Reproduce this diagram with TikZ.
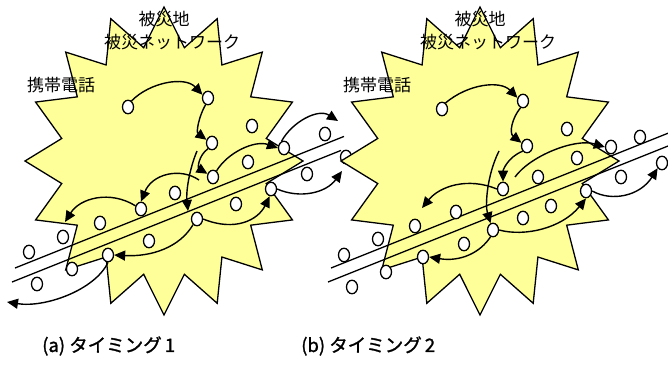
\documentclass[tikz,border=0pt]{standalone}
\usepackage{fontspec}
\newfontfamily\jpfont{Noto Sans CJK JP}
\newfontfamily\jpcap[FakeBold=1.3]{Noto Sans CJK JP}
\usetikzlibrary{arrows.meta,shapes.geometric}
\definecolor{staryellow}{RGB}{255,255,153}
\tikzset{
 pt/.style={ellipse, draw, fill=white, line width=1.3pt, minimum width=11pt, minimum height=13.5pt, inner sep=0pt},
 road/.style={line width=1.3pt},
 starfill/.style={fill=staryellow, draw=black, line width=1.3pt, line join=miter},
 arr/.style={line width=1.4pt, -{Triangle[length=11pt,width=10pt]}},
 lbl/.style={font=\jpfont\fontsize{17}{20}\selectfont, inner sep=0pt},
 caplbl/.style={font=\jpcap\fontsize{18.5}{22}\selectfont, inner sep=0pt},
}
\newcommand{\drawburst}[2]{%
  \path[starfill] ({#1},{#2-154}) \foreach \i in {1,...,31}{ -- ({#1+139*(0.875+0.125*cos(180*\i))*sin(11.25*\i)}, {#2-154*(0.875+0.125*cos(180*\i))*cos(11.25*\i)}) } -- cycle;}
\begin{document}
\begin{tikzpicture}[x=1pt,y=-1pt]
\useasboundingbox (0,0) rectangle (668,369);
% ---------------- left panel ----------------
\drawburst{164}{161}
\draw[road] (15,268) -- (344,136.4);
\draw[road] (12,282) -- (341,150.4);
\node[lbl] (t1) at (164,19) {被災地};
\node[lbl] (t2) at (172,42) {被災ネットワーク};
\node[lbl] (t3) at (61,85) {携帯電話};
\foreach \n/\x/\y in {a1/128/107, a2/208/98, a3/252/126, a4/212/143, a5/284/148, a6/325/134, a7/248/162, a8/213/177, a9/175/193, a10/141/209, a11/100/223, a12/63/237, a13/29/252,
  b0/346/157, b1/307/174, b2/271/189, b3/236/204, b4/197/219, b5/149/241, b6/108/255, b7/72/269, b8/37/284}
  \node[pt] (\n) at (\x,\y) {};
\coordinate (s4) at (197,151);
\coordinate (e4) at (188,211);
\coordinate (e6) at (338,121);
\coordinate (e7) at (342,171);
\coordinate (e10) at (7,302);
\coordinate (s11) at (199,180);
\coordinate (e12) at (65,222);
\draw[arr] (a1.60) .. controls (150,82) and (185,76) .. (a2.150);
\draw[arr] (a2.250) .. controls (199,116) and (196,132) .. (a4.150);
\draw[arr] (a4.235) .. controls (198,156) and (198,168) .. (a8.150);
\draw[arr] (s4) .. controls (189,170) and (186,192) .. (e4);
\draw[arr] (a8.60) .. controls (228,152) and (255,140) .. (a5.180);
\draw[arr] (a5.110) .. controls (292,122) and (318,108) .. (e6);
\draw[arr] (b2.east) .. controls (300,199) and (326,193) .. (e7);
\draw[arr] (b4.east) .. controls (235,232) and (258,220) .. (b2.260);
\draw[arr] (b4.235) .. controls (180,247) and (152,257) .. (b6.east);
\draw[arr] (b6.south) .. controls (95,290) and (45,308) .. (e10);
\draw[arr] (s11) .. controls (180,167) and (152,174) .. (a10.north);
\draw[arr] (a10.150) .. controls (110,190) and (80,198) .. (e12);
% ---------------- right panel ----------------
\drawburst{480}{161}
\draw[road] (331,268) -- (668,133.2);
\draw[road] (328,282) -- (668,146);
\node[lbl] (u1) at (480,19) {被災地};
\node[lbl] (u2) at (488,42) {被災ネットワーク};
\node[lbl] (u3) at (377,85) {携帯電話};
\foreach \n/\x/\y in {c1/442/109, c2/523/101, c3/567/129, c4/527/146, c5/503/189, c6/538/177, c7/577/158, c8/611/147, c9/640/137, c10/456/212, c11/415/226, c12/378/239, c13/344/255,
  d1/662/163, d2/621/177, d3/586/191, d4/551/206, d5/523/218, d6/493/230, d7/464/244, d8/423/257, d9/386/272, d10/352/287}
  \node[pt] (\n) at (\x,\y) {};
\coordinate (rs4) at (515,177);
\coordinate (rs5) at (499,151);
\coordinate (re6) at (422,208);
\draw[arr] (c1.60) .. controls (468,84) and (500,80) .. (c2.150);
\draw[arr] (c2.250) .. controls (512,118) and (509,133) .. (c4.150);
\draw[arr] (c4.230) .. controls (508,157) and (503,170) .. (c5.north);
\draw[arr] (rs4) .. controls (530,156) and (575,138) .. (c8.west);
\draw[arr] (rs5) .. controls (487,175) and (485,205) .. (d6.110);
\draw[arr] (c5.west) .. controls (468,177) and (440,186) .. (re6);
\draw[arr] (d6.east) .. controls (525,237) and (562,228) .. (d3.south);
\draw[arr] (d6.250) .. controls (480,253) and (460,262) .. (d8.east);
\draw[arr] (d3.east) .. controls (612,202) and (640,196) .. (d1.230);
% ---------------- captions ----------------
\node[caplbl, anchor=west] (capa) at (42,346) {(a)\ タイミング\,1};
\node[caplbl, anchor=west] (capb) at (301,346) {(b)\ タイミング\,2};
\end{tikzpicture}
\end{document}
